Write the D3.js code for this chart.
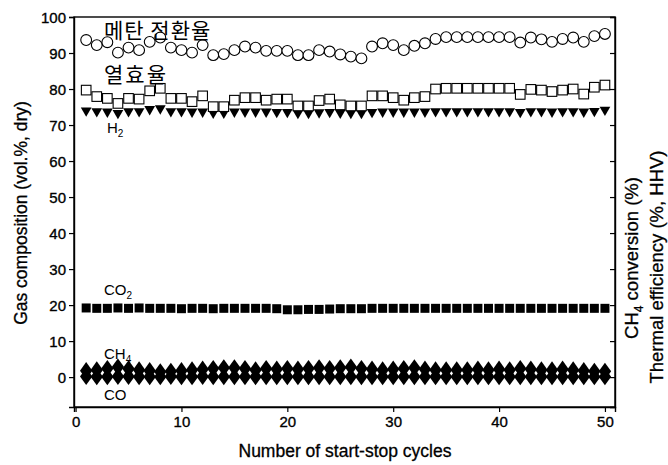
<!DOCTYPE html>
<html><head><meta charset="utf-8">
<script src="https://cdn.jsdelivr.net/npm/d3@7/dist/d3.min.js"></script>
<style>body{margin:0;background:#fff}svg{display:block}</style>
</head><body><svg id="c" width="668" height="465"></svg>
<script>
const cycles = d3.range(1, 51);
const ch4Conversion = [93.6,92.2,93.0,90.1,91.5,90.8,93.1,94.3,91.5,90.8,90.1,92.2,89.4,89.7,90.8,91.8,91.5,90.6,90.6,90.6,89.4,89.4,90.8,90.4,89.6,89.0,88.5,91.8,92.7,92.2,90.8,92.0,92.7,93.9,94.4,94.4,94.4,94.4,94.4,94.4,94.4,92.9,94.3,93.8,93.1,93.9,94.3,93.1,94.7,95.3];
const thermalEff = [79.7,77.9,77.4,76.0,77.4,77.2,79.5,80.2,77.4,77.4,76.5,78.1,75.1,75.1,76.9,77.6,77.6,76.9,77.2,77.2,75.3,75.3,76.8,77.2,75.6,75.3,75.3,78.1,78.1,77.6,76.9,77.6,77.9,80.0,80.2,80.2,80.2,80.2,80.2,80.2,80.2,78.5,79.9,79.7,79.3,79.7,80.0,78.6,80.5,81.1];
const h2 = [74.0,73.8,73.7,73.3,73.8,73.8,74.4,74.6,73.8,73.8,73.7,73.7,73.4,73.4,73.7,73.7,73.7,73.7,73.6,73.6,73.3,73.3,73.5,73.6,73.4,73.3,73.3,73.6,73.7,73.7,73.7,73.7,73.7,73.8,73.8,73.8,73.8,73.8,73.8,73.8,73.8,73.6,73.8,73.8,73.7,73.8,73.8,73.7,73.9,74.2];
const co2 = [19.2,19.1,19.1,19.2,19.1,19.2,19.1,19.1,19.1,19.0,19.1,19.1,19.0,19.1,19.1,19.1,19.1,19.1,19.0,18.7,18.7,18.8,18.8,18.9,19.0,19.0,19.0,19.1,19.1,19.1,19.1,19.1,19.1,19.1,19.1,19.1,19.1,19.1,19.1,19.1,19.1,19.1,19.1,19.1,19.1,19.1,19.1,19.1,19.1,19.1];
const ch4 = [1.8,2.0,2.4,2.8,2.3,2.0,1.8,1.5,1.6,1.8,2.0,2.2,2.4,2.6,2.6,2.4,2.0,2.4,2.2,2.4,2.2,2.4,2.6,2.4,2.6,2.8,2.4,2.2,2.0,2.2,2.4,2.6,2.2,2.0,2.0,2.0,2.0,2.2,2.0,2.2,2.0,2.4,2.2,2.0,2.0,2.2,2.0,1.8,1.6,1.6];
const co = [0.2,0.1,0.1,0.2,0.2,0.1,0.1,0.1,0.2,0.1,0.1,0.2,0.1,0.1,0.1,0.1,0.1,0.1,0.1,0.1,0.1,0.1,0.1,0.1,0.1,0.1,0.1,0.1,0.1,0.1,0.1,0.1,0.1,0.1,0.1,0.1,0.1,0.1,0.1,0.1,0.1,0.1,0.1,0.1,0.1,0.1,0.1,0.1,0.1,0.1];
const xTicks = [0,10,20,30,40,50];
const yTicks = [0,10,20,30,40,50,60,70,80,90,100];

const svg = d3.select("#c");
const L = 74, R = 615, T = 17, B = 407;
const x = d3.scaleLinear().domain([-0.15, 50.95]).range([L, R]);
const y = d3.scaleLinear().domain([-8.3, 100]).range([B, T]);
const font = "'Liberation Sans', Arial, sans-serif";

svg.append("rect").attr("x", L).attr("y", T).attr("width", R - L).attr("height", B - T)
  .attr("fill", "none").attr("stroke", "#000").attr("stroke-width", 1.4);

const gx = svg.append("g").attr("transform", `translate(0,${B})`)
  .call(d3.axisBottom(x).tickValues(xTicks).tickSize(5).tickPadding(4).tickFormat(d3.format("d")));
const gy = svg.append("g").attr("transform", `translate(${L},0)`)
  .call(d3.axisLeft(y).tickValues(yTicks).tickSize(5).tickPadding(3).tickFormat(d3.format("d")));
const gr = svg.append("g").attr("transform", `translate(${R},0)`)
  .call(d3.axisLeft(y).tickValues(yTicks).tickSize(5).tickFormat(""));
[gx, gy, gr].forEach(g => {
  g.select(".domain").attr("stroke", "#000").attr("stroke-width", 1.4);
  g.selectAll("line").attr("stroke", "#000").attr("stroke-width", 1.2);
  g.selectAll("text").attr("font-family", font).attr("font-size", 15).attr("fill", "#000")
    .attr("stroke", "#000").attr("stroke-width", 0.35);
});
gy.selectAll("text").attr("dy", "0.35em");

const pts = arr => arr.map((v, i) => ({c: cycles[i], v}));

svg.append("g").selectAll("path").data(pts(co)).join("path")
  .attr("d", d3.symbol().type(d3.symbolDiamond).size(85)).attr("fill", "#000")
  .attr("transform", d => `translate(${x(d.c)},${y(d.v)}) scale(1.25,1)`);
svg.append("g").selectAll("path").data(pts(ch4)).join("path")
  .attr("d", d3.symbol().type(d3.symbolDiamond).size(85)).attr("fill", "#000")
  .attr("transform", d => `translate(${x(d.c)},${y(d.v)}) scale(1.25,1)`);
svg.append("g").selectAll("rect").data(pts(co2)).join("rect")
  .attr("x", d => x(d.c) - 4.5).attr("y", d => y(d.v) - 4.5)
  .attr("width", 9).attr("height", 9).attr("fill", "#000");
svg.append("g").selectAll("path").data(pts(h2)).join("path")
  .attr("d", d3.symbol().type(d3.symbolTriangle).size(50)).attr("fill", "#000")
  .attr("transform", d => `translate(${x(d.c)},${y(d.v)}) rotate(180)`);
svg.append("g").selectAll("rect").data(pts(thermalEff)).join("rect")
  .attr("x", d => x(d.c) - 4.8).attr("y", d => y(d.v) - 4.8)
  .attr("width", 9.6).attr("height", 9.6).attr("fill", "#fff").attr("stroke", "#000").attr("stroke-width", 1.1);
svg.append("g").selectAll("circle").data(pts(ch4Conversion)).join("circle")
  .attr("cx", d => x(d.c)).attr("cy", d => y(d.v)).attr("r", 5.4)
  .attr("fill", "#fff").attr("stroke", "#000").attr("stroke-width", 1.1);

const lab = (tx, ty, main, sub) => {
  const t = svg.append("text").attr("x", tx).attr("y", ty)
    .attr("font-family", font).attr("font-size", 15).attr("fill", "#000");
  t.append("tspan").text(main);
  if (sub) t.append("tspan").attr("font-size", 10).attr("dy", 4).text(sub);
};
lab(107, 133, "H", "2");
lab(104, 295, "CO", "2");
lab(104, 359, "CH", "4");
lab(104, 400, "CO", null);

const kr = "'Noto Sans CJK KR', sans-serif";
svg.append("text").attr("x", 104).attr("y", 38).attr("font-family", kr).attr("font-size", 21)
  .attr("letter-spacing", 1).attr("fill", "#000").text("메탄 전환율");
svg.append("text").attr("x", 104).attr("y", 82).attr("font-family", kr).attr("font-size", 21)
  .attr("letter-spacing", 2).attr("fill", "#000").text("열효율");

const title = (sel) => sel.attr("font-family", font).attr("fill", "#000")
  .attr("stroke", "#000").attr("stroke-width", 0.3).attr("text-anchor", "middle");
title(svg.append("text").attr("x", 345).attr("y", 457).attr("font-size", 17.5)).text("Number of start-stop cycles");
title(svg.append("text").attr("transform", "translate(27,213) rotate(-90)").attr("font-size", 17.5)).text("Gas composition (vol.%, dry)");
const t1 = title(svg.append("text").attr("transform", "translate(638,258) rotate(-90)").attr("font-size", 18.5));
t1.append("tspan").text("CH");
t1.append("tspan").attr("font-size", 12).attr("dy", 5).text("4");
t1.append("tspan").attr("dy", -5).text(" conversion (%)");
title(svg.append("text").attr("transform", "translate(663,267) rotate(-90)").attr("font-size", 18.5)).text("Thermal efficiency (%, HHV)");
</script></body></html>
